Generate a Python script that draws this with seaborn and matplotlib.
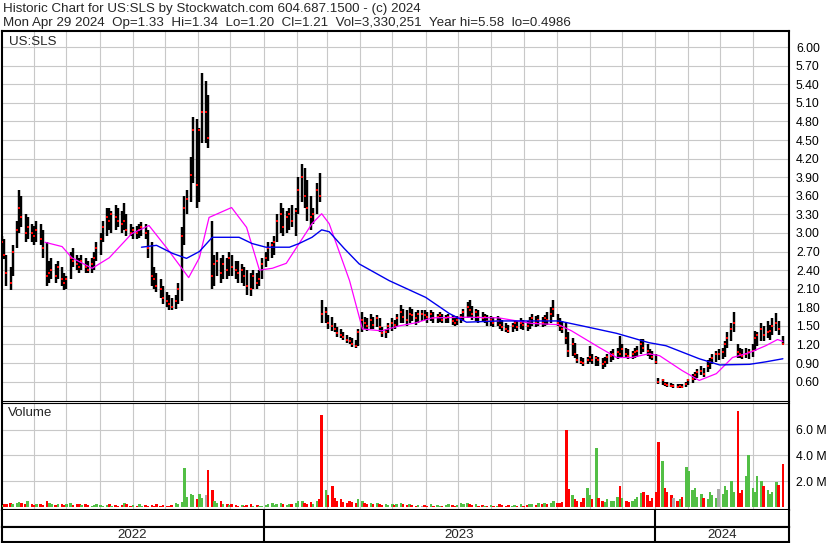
import numpy as np
import pandas as pd
import matplotlib
matplotlib.use("Agg")
import matplotlib.pyplot as plt
import seaborn as sns

sns.set_theme(style="white")
plt.rcParams["font.family"] = ["Liberation Sans", "DejaVu Sans"]

# ---------------- data ----------------
high = [2.95, 2.90, 2.65, 2.45, 2.80, 3.20, 3.69, 3.60, 3.30, 3.25,
        3.15, 3.12, 3.20, 3.15, 3.05, 2.85, 2.55, 2.60, 2.50, 2.55,
        2.45, 2.35, 2.30, 2.70, 2.75, 2.65, 2.60, 2.65, 2.60, 2.55,
        2.60, 2.70, 2.85, 3.00, 3.20, 3.40, 3.40, 3.35, 3.45, 3.40,
        3.35, 3.48, 3.30, 3.15, 3.10, 3.12, 3.15, 3.18, 3.15, 3.05,
        2.85, 2.45, 2.35, 2.25, 2.15, 2.05, 2.00, 1.95, 2.00, 2.20,
        3.10, 3.60, 3.70, 4.22, 4.87, 4.84, 4.70, 5.58, 5.45, 5.22,
        3.20, 2.65, 2.70, 2.60, 2.65, 2.60, 2.70, 2.65, 2.55, 2.55,
        2.50, 2.45, 2.40, 2.35, 2.40, 2.35, 2.40, 2.60, 2.70, 2.85,
        2.85, 2.95, 3.30, 3.48, 3.40, 3.35, 3.40, 3.45, 3.40, 3.90,
        4.12, 4.05, 3.85, 3.60, 3.40, 3.80, 3.96, 1.91, 1.80, 1.68,
        1.65, 1.55, 1.48, 1.45, 1.40, 1.35, 1.32, 1.30, 1.28, 1.45,
        1.72, 1.65, 1.62, 1.70, 1.65, 1.68, 1.62, 1.48, 1.45, 1.55,
        1.62, 1.60, 1.70, 1.83, 1.78, 1.75, 1.80, 1.78, 1.72, 1.75,
        1.76, 1.75, 1.72, 1.75, 1.72, 1.70, 1.72, 1.70, 1.68, 1.70,
        1.68, 1.65, 1.66, 1.70, 1.78, 1.88, 1.91, 1.82, 1.78, 1.75,
        1.72, 1.70, 1.68, 1.66, 1.65, 1.66, 1.62, 1.60, 1.55, 1.52,
        1.55, 1.60, 1.58, 1.62, 1.60, 1.58, 1.65, 1.70, 1.66, 1.68,
        1.65, 1.68, 1.72, 1.80, 1.91, 1.70, 1.62, 1.58, 1.55, 1.40,
        1.31, 1.22, 1.05, 1.00, 0.98, 1.00, 1.18, 1.05, 1.02, 1.00,
        0.98, 1.00, 1.05, 1.10, 1.12, 1.15, 1.33, 1.20, 1.15, 1.12,
        1.10, 1.15, 1.18, 1.29, 1.29, 1.20, 1.12, 1.10, 1.05, 0.66,
        0.64, 0.60, 0.59, 0.58, 0.57, 0.56, 0.57, 0.56, 0.60, 0.65,
        0.73, 0.75, 0.80, 0.86, 0.82, 0.95, 0.99, 1.05, 1.10, 1.12,
        1.15, 1.25, 1.40, 1.55, 1.72, 1.20, 1.15, 1.12, 1.15, 1.12,
        1.20, 1.42, 1.40, 1.55, 1.50, 1.58, 1.52, 1.62, 1.71, 1.58,
        1.34]
low = [2.70, 2.58, 2.15, 2.08, 2.30, 2.75, 3.00, 3.10, 2.85, 2.90,
       2.85, 2.80, 2.85, 2.80, 2.60, 2.15, 2.20, 2.25, 2.20, 2.25,
       2.15, 2.08, 2.10, 2.25, 2.45, 2.40, 2.35, 2.40, 2.35, 2.35,
       2.35, 2.40, 2.55, 2.65, 2.85, 2.95, 3.05, 3.00, 3.05, 3.10,
       3.00, 3.05, 2.95, 2.95, 2.90, 2.90, 2.92, 2.95, 2.90, 2.60,
       2.15, 2.10, 2.05, 1.95, 1.85, 1.80, 1.76, 1.75, 1.78, 1.85,
       1.90, 2.80, 3.30, 3.50, 3.80, 3.40, 3.50, 4.45, 4.45, 4.37,
       2.10, 2.15, 2.30, 2.20, 2.25, 2.25, 2.30, 2.30, 2.25, 2.20,
       2.20, 2.15, 2.00, 1.99, 2.10, 2.10, 2.15, 2.25, 2.45, 2.55,
       2.60, 2.65, 2.85, 3.00, 2.95, 3.00, 3.05, 3.10, 2.95, 3.30,
       3.50, 3.40, 3.20, 3.05, 3.15, 3.30, 3.50, 1.55, 1.55, 1.45,
       1.42, 1.40, 1.32, 1.30, 1.28, 1.22, 1.20, 1.16, 1.15, 1.18,
       1.40, 1.45, 1.42, 1.45, 1.45, 1.48, 1.40, 1.32, 1.31, 1.38,
       1.42, 1.45, 1.48, 1.55, 1.55, 1.50, 1.55, 1.58, 1.52, 1.55,
       1.58, 1.60, 1.55, 1.58, 1.55, 1.55, 1.56, 1.55, 1.54, 1.55,
       1.52, 1.50, 1.52, 1.55, 1.58, 1.62, 1.65, 1.60, 1.58, 1.55,
       1.56, 1.55, 1.50, 1.50, 1.48, 1.50, 1.45, 1.42, 1.40, 1.38,
       1.40, 1.45, 1.42, 1.45, 1.44, 1.42, 1.45, 1.50, 1.48, 1.50,
       1.48, 1.50, 1.52, 1.55, 1.65, 1.50, 1.42, 1.38, 1.20, 1.00,
       1.02, 0.98, 0.90, 0.88, 0.86, 0.88, 0.92, 0.88, 0.86, 0.85,
       0.81, 0.84, 0.88, 0.92, 0.95, 0.96, 1.00, 1.00, 0.98, 0.97,
       0.97, 0.98, 1.00, 1.05, 1.08, 1.02, 0.96, 0.95, 0.88, 0.56,
       0.55, 0.53, 0.52, 0.51, 0.50, 0.50, 0.50, 0.50, 0.51, 0.55,
       0.58, 0.62, 0.66, 0.70, 0.67, 0.75, 0.80, 0.88, 0.92, 0.95,
       0.96, 1.00, 1.15, 1.25, 1.40, 0.98, 0.98, 0.96, 0.98, 0.96,
       1.00, 1.10, 1.18, 1.25, 1.26, 1.30, 1.28, 1.35, 1.42, 1.35,
       1.20]
close = [2.85, 2.65, 2.35, 2.20, 2.70, 3.05, 3.40, 3.25, 3.00, 3.10,
         3.00, 2.95, 3.05, 2.90, 2.75, 2.30, 2.35, 2.40, 2.30, 2.45,
         2.25, 2.20, 2.25, 2.60, 2.55, 2.50, 2.45, 2.55, 2.45, 2.40,
         2.50, 2.60, 2.75, 2.90, 3.10, 3.25, 3.20, 3.30, 3.25, 3.20,
         3.15, 3.20, 3.05, 3.00, 3.05, 3.00, 3.05, 3.10, 3.00, 2.75,
         2.30, 2.25, 2.15, 2.10, 1.95, 1.90, 1.85, 1.80, 1.90, 2.10,
         2.95, 3.40, 3.55, 3.93, 4.66, 3.78, 4.66, 4.95, 4.95, 4.53,
         2.30, 2.50, 2.55, 2.35, 2.50, 2.40, 2.60, 2.45, 2.40, 2.35,
         2.40, 2.30, 2.15, 2.10, 2.30, 2.20, 2.25, 2.50, 2.60, 2.75,
         2.80, 2.85, 3.20, 3.30, 3.10, 3.25, 3.30, 3.20, 3.35, 3.70,
         3.90, 3.60, 3.40, 3.25, 3.30, 3.70, 3.60, 1.70, 1.72, 1.55,
         1.50, 1.45, 1.38, 1.35, 1.32, 1.28, 1.25, 1.20, 1.18, 1.40,
         1.60, 1.55, 1.50, 1.60, 1.52, 1.62, 1.48, 1.38, 1.40, 1.50,
         1.55, 1.52, 1.62, 1.72, 1.65, 1.60, 1.70, 1.68, 1.62, 1.70,
         1.70, 1.68, 1.65, 1.70, 1.62, 1.65, 1.68, 1.60, 1.62, 1.65,
         1.58, 1.55, 1.60, 1.65, 1.72, 1.80, 1.75, 1.70, 1.72, 1.65,
         1.62, 1.65, 1.58, 1.60, 1.55, 1.58, 1.52, 1.48, 1.45, 1.42,
         1.50, 1.55, 1.48, 1.55, 1.52, 1.50, 1.58, 1.62, 1.55, 1.60,
         1.55, 1.62, 1.60, 1.70, 1.78, 1.55, 1.50, 1.45, 1.30, 1.10,
         1.20, 1.05, 0.95, 0.92, 0.90, 0.95, 1.00, 0.95, 0.98, 0.95,
         0.88, 0.92, 1.00, 1.02, 1.05, 1.08, 1.04, 1.12, 1.05, 1.02,
         1.05, 1.08, 1.10, 1.20, 1.15, 1.10, 1.05, 1.00, 0.92, 0.60,
         0.62, 0.56, 0.55, 0.53, 0.53, 0.52, 0.53, 0.52, 0.57, 0.62,
         0.65, 0.70, 0.75, 0.78, 0.72, 0.85, 0.92, 0.98, 1.05, 1.05,
         1.08, 1.20, 1.30, 1.45, 1.55, 1.08, 1.05, 1.02, 1.05, 1.08,
         1.10, 1.30, 1.35, 1.45, 1.35, 1.40, 1.42, 1.50, 1.55, 1.45,
         1.21]
volume_m = [0.15, 0.25, 0.2, 0.3, 0.2, 0.35, 0.4, 0.3, 0.2, 0.45,
            0.2, 0.15, 0.25, 0.2, 0.15, 0.45, 0.3, 0.2, 0.15, 0.2,
            0.25, 0.15, 0.2, 0.3, 0.15, 0.2, 0.25, 0.15, 0.2, 0.15,
            0.1, 0.15, 0.2, 0.15, 0.1, 0.15, 0.2, 0.1, 0.15, 0.1,
            0.15, 0.3, 0.2, 0.1, 0.15, 0.1, 0.2, 0.1, 0.15, 0.1,
            0.15, 0.1, 0.2, 0.1, 0.15, 0.1, 0.1, 0.15, 0.3, 0.2,
            0.4, 3.0, 0.8, 1.0, 0.9, 0.6, 1.0, 0.7, 0.9, 2.9,
            1.3, 0.5, 0.3, 0.5, 0.2, 0.25, 0.15, 0.2, 0.15, 0.1,
            0.15, 0.1, 0.15, 0.2, 0.1, 0.15, 0.1, 0.1, 0.15, 0.2,
            0.3, 0.15, 0.2, 0.35, 0.2, 0.15, 0.25, 0.2, 0.3, 0.45,
            0.5, 0.3, 0.25, 0.4, 0.2, 0.5, 0.6, 7.1, 1.3, 0.9,
            1.6, 0.7, 0.5, 0.6, 0.4, 0.35, 0.5, 0.4, 0.3, 0.6,
            0.45, 0.3, 0.25, 0.35, 0.2, 0.3, 0.2, 0.15, 0.2, 0.15,
            0.2, 0.15, 0.25, 0.3, 0.2, 0.15, 0.25, 0.15, 0.1, 0.15,
            0.1, 0.15, 0.1, 0.2, 0.1, 0.15, 0.1, 0.1, 0.15, 0.2,
            0.15, 0.1, 0.15, 0.3, 0.2, 0.35, 0.25, 0.15, 0.2, 0.1,
            0.15, 0.1, 0.1, 0.15, 0.1, 0.1, 0.2, 0.15, 0.1, 0.15,
            0.1, 0.15, 0.1, 0.2, 0.1, 0.15, 0.2, 0.25, 0.15, 0.3,
            0.2, 0.35, 0.25, 0.3, 0.45, 0.3, 0.35, 0.4, 6.0, 1.4,
            0.9, 0.6, 0.5, 0.4, 0.7, 1.5, 0.9, 0.6, 4.6, 0.7,
            0.5, 0.4, 0.6, 0.45, 0.5, 0.8, 1.6, 0.7, 0.5, 0.4,
            0.45, 0.6, 0.8, 1.1, 1.2, 0.9, 0.5, 0.7, 1.2, 5.0,
            3.6, 1.5, 1.2, 0.9, 0.7, 0.5, 0.6, 0.8, 3.1, 2.8,
            1.3, 1.5, 0.8, 1.0, 0.7, 0.6, 1.2, 0.9, 0.7, 1.4,
            1.0, 1.6, 1.3, 2.0, 1.2, 7.4, 1.1, 1.3, 2.4, 4.0,
            1.5, 1.2, 2.4, 2.0, 1.6, 1.3, 1.0, 1.2, 1.9, 1.7,
            3.33]

ma_fast_dates = ["2022-06-11", "2022-06-27", "2022-07-06", "2022-07-25", "2022-08-10",
                 "2022-08-31", "2022-09-16", "2022-10-02", "2022-10-23", "2022-11-02",
                 "2022-11-11", "2022-12-02", "2022-12-16", "2022-12-28", "2023-01-09",
                 "2023-01-22", "2023-02-03", "2023-02-15", "2023-02-24", "2023-03-03",
                 "2023-03-22", "2023-04-03", "2023-04-21", "2023-05-07", "2023-05-23",
                 "2023-06-07", "2023-07-09", "2023-08-08", "2023-09-08", "2023-10-03",
                 "2023-10-15", "2023-11-10", "2023-11-26", "2023-12-10", "2023-12-26",
                 "2024-01-05", "2024-01-26", "2024-02-11", "2024-02-27", "2024-03-13",
                 "2024-03-29", "2024-04-13", "2024-04-24", "2024-04-29"]
ma_fast = [2.85, 2.78, 2.60, 2.43, 2.60,
           2.99, 3.12, 2.77, 2.28, 2.60,
           3.25, 3.41, 3.09, 2.40, 2.43,
           2.51, 2.83, 3.15, 3.31, 3.15,
           2.23, 1.45, 1.42, 1.50, 1.55,
           1.63, 1.64, 1.63, 1.54, 1.52,
           1.42, 1.15, 0.99, 0.99, 1.05,
           1.02, 0.78, 0.62, 0.73, 0.99,
           1.07, 1.18, 1.28, 1.25]

ma_slow_dates = ["2022-09-09", "2022-09-23", "2022-10-08", "2022-10-21", "2022-11-02",
                 "2022-11-14", "2022-12-09", "2022-12-21", "2023-01-03", "2023-01-25",
                 "2023-02-03", "2023-02-15", "2023-02-24", "2023-03-03", "2023-03-17",
                 "2023-03-31", "2023-04-28", "2023-06-01", "2023-06-23", "2023-07-09",
                 "2023-08-08", "2023-09-08", "2023-10-03", "2023-10-25", "2023-11-26",
                 "2023-12-26", "2024-01-11", "2024-02-11", "2024-03-01", "2024-03-29",
                 "2024-04-13", "2024-04-29"]
ma_slow = [2.77, 2.80, 2.67, 2.59, 2.70,
           2.93, 2.93, 2.83, 2.77, 2.77,
           2.83, 2.93, 3.05, 3.02, 2.75,
           2.50, 2.23, 1.96, 1.70, 1.56,
           1.58, 1.58, 1.58, 1.50, 1.38,
           1.23, 1.18, 0.97, 0.87, 0.88,
           0.92, 0.97]

price_ticks = [0.60, 0.90, 1.20, 1.50, 1.80, 2.10, 2.40, 2.70, 3.00, 3.30,
               3.60, 3.90, 4.20, 4.50, 4.80, 5.10, 5.40, 5.70, 6.00]
vol_ticks_m = [2.0, 4.0, 6.0]
year_labels = ["2022", "2023", "2024"]
title_line1 = "Historic Chart for US:SLS by Stockwatch.com 604.687.1500 - (c) 2024"
title_line2 = ("Mon Apr 29 2024  Op=1.33  Hi=1.34  Lo=1.20  Cl=1.21  "
               "Vol=3,330,251  Year hi=5.58  lo=0.4986")

# ---------------- frame ----------------
dates = pd.bdate_range("2022-05-02", "2024-04-29")[::2]
n = len(dates)
assert len(high) == n and len(low) == n and len(close) == n and len(volume_m) == n

df = pd.DataFrame({"date": dates, "high": high, "low": low, "close": close,
                   "volume": np.array(volume_m) * 1e6})
chg = df["close"].diff().fillna(1.0)
vol_colors = np.where(chg > 0, "#52bf45", np.where(chg < 0, "#ff0000", "#aaaaaa"))

W, H = 830, 543
fig = plt.figure(figsize=(W / 100, H / 100), dpi=100)
fig.patch.set_facecolor("white")

def box(x0, y0, x1, y1):
    return [x0 / W, 1 - y1 / H, (x1 - x0) / W, (y1 - y0) / H]

L, R = 1.5, 789.0
ax_p = fig.add_axes(box(L, 31, R, 400.7))
ax_v = fig.add_axes(box(L, 402.7, R, 510))
ax_b = fig.add_axes(box(L, 510, R, 527))
ax_y = fig.add_axes(box(L, 527, R, 542))

x0 = pd.Timestamp("2022-05-01 12:00")
x1 = pd.Timestamp("2024-05-04 17:00")
months = pd.date_range("2022-06-01", "2024-04-01", freq="MS")
grid_c = "#c8c8c8"

for ax in (ax_p, ax_v, ax_b, ax_y):
    ax.set_xlim(x0, x1)
    ax.set_facecolor("white")
    for s in ax.spines.values():
        s.set_color("black")
        s.set_linewidth(1.5)

# price panel
ax_p.set_ylim(0.293, 6.259)
ax_p.set_xticks(months)
ax_p.set_xticklabels([])
ax_p.set_yticks(price_ticks)
ax_p.set_yticklabels([f"{v:.2f}" for v in price_ticks])
ax_p.yaxis.tick_right()
ax_p.tick_params(axis="both", length=0)
ax_p.tick_params(axis="y", labelsize=8.8, pad=5, labelcolor="black")
ax_p.grid(True, color=grid_c, linewidth=0.8)
ax_p.set_axisbelow(True)
ax_p.spines["bottom"].set_linewidth(0.8)

ax_p.vlines(df["date"], df["low"], df["high"], color="black", linewidth=1.75, zorder=3)
sns.scatterplot(data=df, x="date", y="close", ax=ax_p, color="#ff0000", marker="s",
                s=2.5, linewidth=0, zorder=4)
sns.lineplot(x=pd.to_datetime(ma_fast_dates), y=ma_fast, ax=ax_p, color="#ff00ff",
             linewidth=0.9, zorder=5)
sns.lineplot(x=pd.to_datetime(ma_slow_dates), y=ma_slow, ax=ax_p, color="#0000ee",
             linewidth=1.0, zorder=5)
ax_p.set_xlim(x0, x1)
ax_p.set_xlabel("")
ax_p.set_ylabel("")
ax_p.text(9 / W, 1 - 42 / H, "US:SLS", transform=fig.transFigure, fontsize=9.6,
          va="center", ha="left")

# volume panel
ax_v.bar(df["date"], df["volume"], width=2.4, color=vol_colors, linewidth=0, zorder=3)
ax_v.set_ylim(-0.23e6, 8.08e6)
ax_v.set_xticks(months)
ax_v.set_xticklabels([])
ax_v.set_yticks([v * 1e6 for v in vol_ticks_m])
ax_v.set_yticklabels([f"{v:.1f} M" for v in vol_ticks_m])
ax_v.yaxis.tick_right()
ax_v.tick_params(axis="both", length=0)
ax_v.tick_params(axis="y", labelsize=8.8, pad=5, labelcolor="black")
ax_v.grid(True, color=grid_c, linewidth=0.8)
ax_v.set_axisbelow(True)
ax_v.spines["top"].set_linewidth(0.8)
ax_v.set_xlim(x0, x1)
ax_v.text(8 / W, 1 - 413 / H, "Volume", transform=fig.transFigure, fontsize=9.6,
          va="center", ha="left")

# bottom bands
year_starts = [pd.Timestamp("2023-01-01"), pd.Timestamp("2024-01-01")]
bounds = [x0] + year_starts + [x1]
for ax in (ax_b, ax_y):
    ax.set_ylim(0, 1)
    ax.set_xticks([])
    ax.set_yticks([])
    for ys in year_starts:
        ax.axvline(ys, color="black", linewidth=1.5)
ax_b.spines["top"].set_visible(False)
for lab, a, b in zip(year_labels, bounds[:-1], bounds[1:]):
    ax_y.text(a + (b - a) / 2, 0.45, lab, ha="center", va="center", fontsize=9.6)

fig.text(3 / W, 1 - 9 / H, title_line1, fontsize=9.6, va="center", ha="left")
fig.text(3 / W, 1 - 23 / H, title_line2, fontsize=9.6, va="center", ha="left")

fig.savefig("out.png", dpi=100, facecolor="white")
